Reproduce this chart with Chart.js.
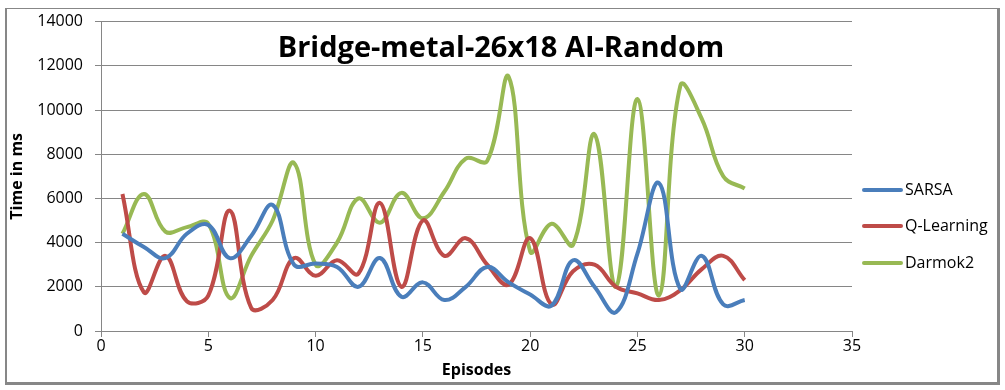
<!DOCTYPE html>
<html>
<head>
<meta charset="utf-8">
<script src="https://cdn.jsdelivr.net/npm/chart.js@4/dist/chart.umd.min.js"></script>
<style>
  html, body { margin: 0; padding: 0; background: #fff; }
  #wrap { width: 1005px; height: 390px; }
</style>
</head>
<body>
<div id="wrap"><canvas id="chart" width="1005" height="390"></canvas></div>
<script>
// episodes on the x axis
const episodes = [1, 2, 3, 4, 5, 6, 7, 8, 9, 10, 11, 12, 13, 14, 15,
                  16, 17, 18, 19, 20, 21, 22, 23, 24, 25, 26, 27, 28, 29, 30];

// time in ms
const sarsa = [4400, 3800, 3300, 4400, 4800, 3300, 4300, 5700, 3000, 3050,
               2900, 2000, 3300, 1550, 2200, 1400, 2000, 2900, 2200, 1650,
               1150, 3200, 2000, 850, 3500, 6700, 1900, 3400, 1200, 1400];
const qLearning = [6200, 1750, 3400, 1350, 1600, 5450, 1050, 1400, 3300, 2500,
                   3200, 2600, 5800, 2000, 5000, 3400, 4200, 3000, 2100, 4200,
                   1200, 2700, 3000, 2000, 1700, 1400, 1850, 2800, 3400, 2300];
const darmok2 = [4400, 6200, 4500, 4700, 4850, 1500, 3400, 5000, 7600, 3000,
                 4000, 6000, 4900, 6250, 5100, 6300, 7800, 7700, 11500, 3600,
                 4850, 3900, 8900, 2000, 10500, 1600, 11100, 9600, 7000, 6450];

const seriesNames = ['SARSA', 'Q-Learning', 'Darmok2'];
const seriesColors = ['#4a7ebb', '#be4b48', '#98b954'];
const yTicks = [0, 2000, 4000, 6000, 8000, 10000, 12000, 14000];
const xTicks = [0, 5, 10, 15, 20, 25, 30, 35];

const FONT = '"Open Sans", "Liberation Sans", sans-serif';

function points(values) {
  return values.map((v, i) => ({ x: episodes[i], y: v }));
}

// title, legend and outer frame drawn on the canvas
const decorations = {
  id: 'decorations',
  beforeDraw(chart) {
    const c = chart.ctx;
    c.save();
    c.fillStyle = '#fff';
    c.fillRect(0, 0, chart.width, chart.height);
    c.fillStyle = '#878787';
    c.fillRect(5, 8, 2, 376);      // left
    c.fillRect(5, 8, 994, 1);      // top
    c.fillRect(997, 8, 3, 377);    // right
    c.fillRect(5, 382, 995, 3);    // bottom
    c.restore();
  },
  afterDraw(chart) {
    const c = chart.ctx;
    c.save();
    c.fillStyle = '#000';
    c.font = 'bold 29px ' + FONT;
    c.textAlign = 'center';
    c.textBaseline = 'alphabetic';
    c.fillText('Bridge-metal-26x18 AI-Random', 501, 57);

    c.font = '16px ' + FONT;
    c.textAlign = 'left';
    c.textBaseline = 'middle';
    const ys = [190, 226, 263];
    chart.data.datasets.forEach((ds, i) => {
      c.strokeStyle = ds.borderColor;
      c.lineWidth = 4;
      c.lineCap = 'round';
      c.beginPath();
      c.moveTo(864, ys[i]);
      c.lineTo(901, ys[i]);
      c.stroke();
      c.fillStyle = '#000';
      c.fillText(ds.label, 905, ys[i]);
    });
    c.restore();
  }
};

new Chart(document.getElementById('chart'), {
  type: 'line',
  data: {
    datasets: [sarsa, qLearning, darmok2].map((vals, i) => ({
      label: seriesNames[i],
      data: points(vals),
      borderColor: seriesColors[i],
      backgroundColor: seriesColors[i],
      borderWidth: 4,
      pointRadius: 0,
      tension: 0.4,
      fill: false
    }))
  },
  options: {
    responsive: false,
    animation: false,
    layout: { padding: { left: 0, right: 153, top: 19, bottom: 0 } },
    plugins: {
      legend: { display: false },
      tooltip: { enabled: false }
    },
    scales: {
      x: {
        type: 'linear',
        min: 0,
        max: 35,
        afterBuildTicks: s => { s.ticks = xTicks.map(v => ({ value: v })); },
        afterFit: s => { s.height = 59; },
        ticks: { color: '#000', font: { family: FONT, size: 16 }, padding: 0 },
        grid: { drawOnChartArea: false, color: '#868686', tickLength: 6 },
        border: { color: '#868686', width: 1 },
        title: {
          display: true,
          text: 'Episodes',
          color: '#000',
          font: { family: FONT, size: 16, weight: 'bold' },
          padding: { top: 0, bottom: 10 }
        }
      },
      y: {
        min: 0,
        max: 14000,
        afterBuildTicks: s => { s.ticks = yTicks.map(v => ({ value: v })); },
        afterFit: s => { s.width = 101; },
        ticks: {
          color: '#000',
          font: { family: FONT, size: 16 },
          padding: 12,
          callback: v => String(v)
        },
        grid: { color: '#868686', tickLength: 6 },
        border: { color: '#868686', width: 1 },
        title: {
          display: true,
          text: 'Time in ms',
          color: '#000',
          font: { family: FONT, size: 16, weight: 'bold' },
          padding: { top: 8, bottom: 0 }
        }
      }
    }
  },
  plugins: [decorations]
});
</script>
</body>
</html>
